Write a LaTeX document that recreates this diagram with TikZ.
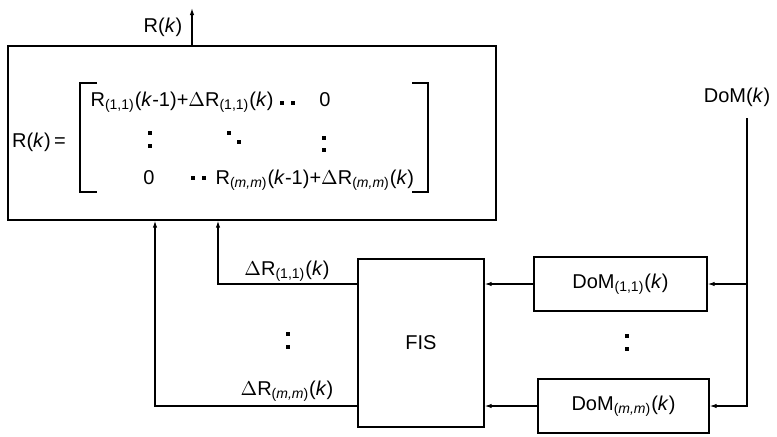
\documentclass[tikz,border=0pt]{standalone}
\usepackage{fontspec}
\setmainfont{Liberation Sans}
\usepackage{tikz}
\usetikzlibrary{arrows.meta, positioning, calc}

\newcommand{\ki}{\textit{k}}
\newcommand{\idx}[1]{\textsubscript{#1}}

\begin{document}
\begin{tikzpicture}[x=0.5pt, y=-0.5pt, line width=0.6pt,
        font=\fontsize{10}{12}\selectfont,
        box/.style={draw, rectangle, inner sep=0pt},
        arr/.style={-{Latex[length=3.5pt, width=2.2pt]}}]
        \useasboundingbox (0,0) rectangle (777,436);

        % Main block holding the matrix R(k)
        \node[box, minimum width=244pt, minimum height=87pt] (rmat) at (252,133) {};
        % Fuzzy inference system
        \node[box, minimum width=63pt, minimum height=84pt] (fis) at (421,343) {FIS};
        % Degree of membership blocks
        \node[box, minimum width=86.5pt, minimum height=27pt] (dom1) at (620.5,284) {DoM\idx{(1,1)}(\ki)};
        \node[box, minimum width=85.5pt, minimum height=27pt] (domm) at (623.5,406) {DoM\idx{(\textit{m,m})}(\ki)};

        % Matrix text
        \node[anchor=base east] (req) at (73,147) {R(\ki)\,=};
        \node[anchor=base west, inner sep=0pt] (row1) at (90,106) {R\idx{(1,1)}(\ki-1)+$\Delta$R\idx{(1,1)}(\ki)};
        \node[anchor=base, inner sep=0pt] (z1) at (325,106) {0};
        \node[anchor=base, inner sep=0pt] (z2) at (149,184) {0};
        \node[anchor=base west, inner sep=0pt] (row3) at (215,184) {R\idx{(\textit{m,m})}(\ki-1)+$\Delta$R\idx{(\textit{m,m})}(\ki)};
        % brackets
        \draw (97,83) -- (80,83) -- (80,192) -- (97,192);
        \draw (412,83) -- (428,83) -- (428,192) -- (412,192);
        % dots of the matrix and between the channels
        \foreach \x/\y in {282/103, 293/103, 150/133, 150/146, 229/133, 239/142,
                324/138, 324/150, 193/178, 204/178}
            \fill (\x-1.6,\y-1.6) rectangle (\x+1.6,\y+1.6);
        \foreach \x/\y in {288/334, 288/347, 627/336, 627/349}
            \fill (\x-1.8,\y-1.8) rectangle (\x+1.8,\y+1.8);

        % Output R(k)
        \coordinate (rtop) at (192,8);
        \draw[arr] (rmat.north -| rtop) -- (rtop);
        \node (rlab) at (163,27) {R(\ki)};

        % Input DoM(k) and its branches
        \node (domk) at (737,97) {DoM(\ki)};
        \coordinate (dtop) at (747,118);
        \draw[arr] (dtop) |- (domm.east);
        \draw[arr] (dtop |- dom1.east) -- (dom1.east);
        \draw[arr] (dom1.west) -- (dom1.west -| fis.east);
        \draw[arr] (domm.west) -- (domm.west -| fis.east);

        % Updates fed back into R(k)
        \coordinate (in1) at (218,0);
        \coordinate (inm) at (155,0);
        \draw[arr] (fis.west |- dom1.west) -| (rmat.south -| in1);
        \draw[arr] (fis.west |- domm.west) -| (rmat.south -| inm);
        \node (dr1) at (287,271) {$\Delta$R\idx{(1,1)}(\ki)};
        \node (drm) at (287,391) {$\Delta$R\idx{(\textit{m,m})}(\ki)};
    \end{tikzpicture}
\end{document}
